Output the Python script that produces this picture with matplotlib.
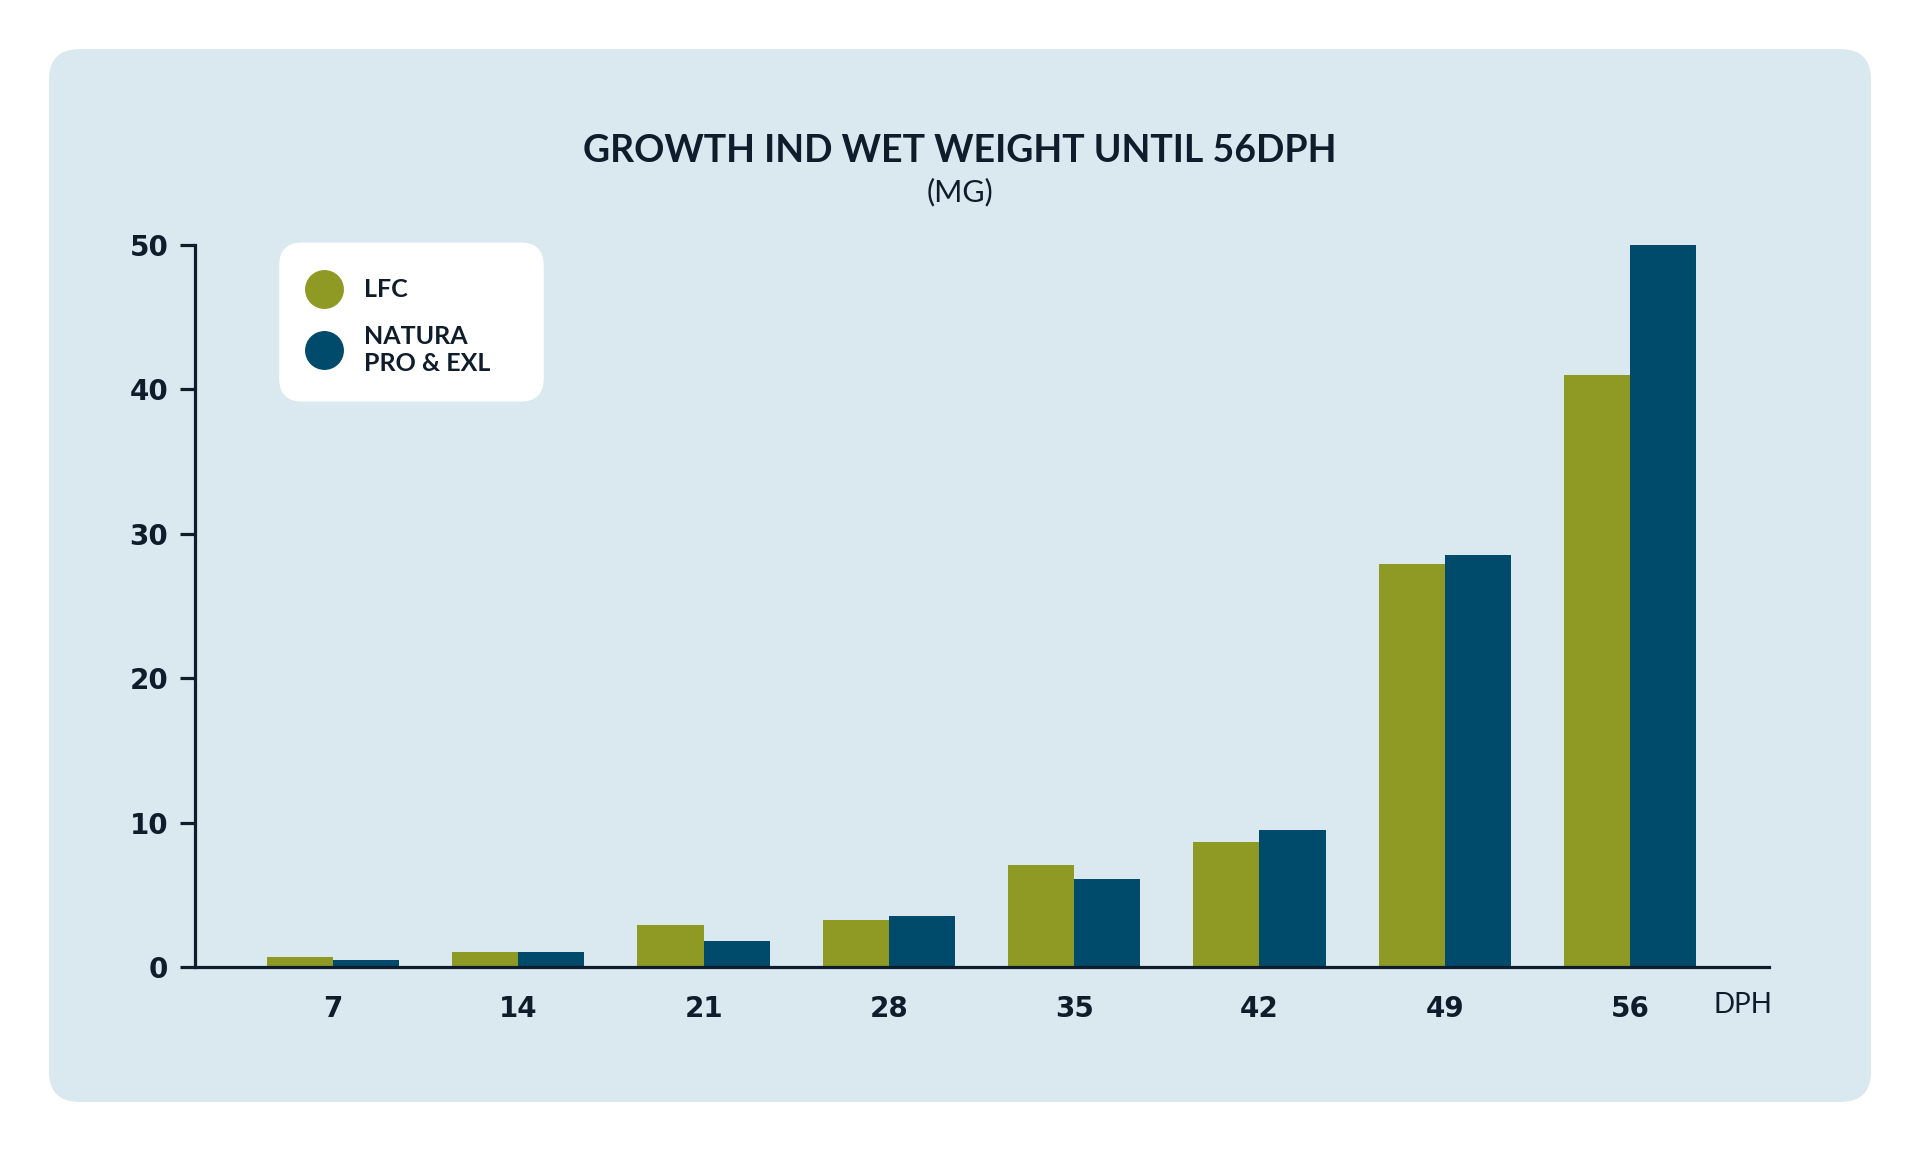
import matplotlib
matplotlib.use("Agg")
import matplotlib.pyplot as plt
from matplotlib.patches import FancyBboxPatch
from matplotlib.lines import Line2D
import numpy as np

days = ["7", "14", "21", "28", "35", "42", "49", "56"]
lfc = [0.7, 1.1, 2.95, 3.3, 7.1, 8.65, 27.95, 41.0]
natura = [0.5, 1.1, 1.8, 3.55, 6.1, 9.5, 28.55, 50.0]
series_names = ["LFC", "NATURA\nPRO & EXL"]
yticks = [0, 10, 20, 30, 40, 50]

green = "#8e9a24"
blue = "#004a6b"
ink = "#0f1c2b"
panel = "#dae8f0"

fig = plt.figure(figsize=(19.2, 11.52), dpi=100)
fig.patch.set_facecolor("white")

# rounded background panel
bg = FancyBboxPatch((0.0255, 0.0434), 0.949, 0.914,
                    boxstyle="round,pad=0,rounding_size=0.016",
                    transform=fig.transFigure, facecolor=panel, edgecolor="none",
                    mutation_aspect=1920 / 1152, zorder=-10)
fig.add_artist(bg)

ax = fig.add_axes([0.1014, 0.1602, 0.8202, 0.6272])
ax.set_facecolor("none")

x = np.arange(len(days))
w = 0.357
ax.bar(x - w / 2, lfc, width=w, color=green, zorder=2)
ax.bar(x + w / 2, natura, width=w, color=blue, zorder=2)

ax.set_xlim(-0.747, 7.753)
ax.set_ylim(0, 50)
for s in ["top", "right"]:
    ax.spines[s].set_visible(False)
for s in ["left", "bottom"]:
    ax.spines[s].set_color(ink)
    ax.spines[s].set_linewidth(2.3)
    ax.spines[s].set_zorder(3)

tick_font = dict(family="DejaVu Sans", weight="bold", size=20)
ax.set_yticks(yticks)
ax.set_yticklabels([str(v) for v in yticks], fontdict=tick_font, color=ink)
ax.set_xticks(x)
ax.set_xticklabels(days, fontdict=tick_font, color=ink)
ax.tick_params(axis="y", length=11, width=2.3, color=ink, pad=8)
ax.tick_params(axis="x", length=0, pad=20)

fig.text(0.5, 0.8693, "GROWTH IND WET WEIGHT UNTIL 56DPH", ha="center", va="center",
         fontsize=27, fontweight="bold", family="Lato", color=ink)
fig.text(0.5, 0.8333, "(MG)", ha="center", va="center",
         fontsize=22, fontweight="normal", family="Lato", color=ink)
fig.text(0.9076, 0.1276, "DPH", ha="center", va="center",
         fontsize=20, fontweight="normal", family="Lato", color=ink)

# legend box
lg = FancyBboxPatch((0.1454, 0.6514), 0.1378, 0.1381,
                    boxstyle="round,pad=0,rounding_size=0.012",
                    transform=fig.transFigure, facecolor="white", edgecolor="none",
                    mutation_aspect=1920 / 1152, zorder=5)
fig.add_artist(lg)
for (yy, c, name) in [(0.749, green, series_names[0]), (0.696, blue, series_names[1])]:
    fig.add_artist(Line2D([0.169], [yy], marker="o", markersize=27, color=c,
                          linestyle="none", transform=fig.transFigure, zorder=6))
    fig.text(0.1894, yy, name, ha="left", va="center", fontsize=18, fontweight="bold",
             family="Lato", color=ink, linespacing=1.2, zorder=6)

fig.savefig("out.png", dpi=100)
